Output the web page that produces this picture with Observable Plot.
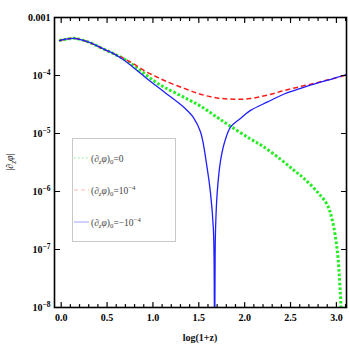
<!DOCTYPE html>
<html><head><meta charset="utf-8">
<script src="https://cdn.jsdelivr.net/npm/d3@7"></script>
<script src="https://cdn.jsdelivr.net/npm/@observablehq/plot@0.6"></script>
<style>body{margin:0;background:#fff}</style>
</head><body><div id="chart"></div>
<script>
// ---- tick values ----
const xMajor = [0, 0.5, 1.0, 1.5, 2.0, 2.5, 3.0];
const xMinor = [0.1,0.2,0.3,0.4,0.6,0.7,0.8,0.9,1.1,1.2,1.3,1.4,1.6,1.7,1.8,1.9,2.1,2.2,2.3,2.4,2.6,2.7,2.8,2.9,3.1];
const yTicks = [1e-8, 1e-7, 1e-6, 1e-5, 1e-4, 1e-3];
const yTickLabels = ["10^-8", "10^-7", "10^-6", "10^-5", "10^-4", "0.001"];

// ---- series ----
const greenX = [-0.02, 0.05, 0.145, 0.30, 0.47, 0.58, 0.69, 0.80, 0.91, 1.02, 1.13, 1.34, 1.53, 1.70, 1.86, 2.06, 2.20, 2.40, 2.54, 2.65, 2.80, 2.90, 2.955, 3.01, 3.035, 3.05, 3.056];
const greenY = [3.98e-4, 4.22e-4, 4.37e-4, 3.75e-4, 2.82e-4, 2.34e-4, 1.91e-4, 1.45e-4, 1.07e-4, 7.9e-5, 6.2e-5, 4.2e-5, 2.9e-5, 1.9e-5, 1.29e-5, 8.1e-6, 6.0e-6, 3.5e-6, 2.3e-6, 1.66e-6, 9.5e-7, 5.9e-7, 3.2e-7, 9.5e-8, 2.8e-8, 1.0e-8, 1.0e-9];

const redX = [-0.02, 0.05, 0.145, 0.30, 0.47, 0.58, 0.69, 0.80, 0.91, 1.02, 1.13, 1.34, 1.53, 1.70, 1.88, 2.06, 2.25, 2.43, 2.62, 2.80, 2.97, 3.11];
const redY = [3.98e-4, 4.22e-4, 4.37e-4, 3.75e-4, 2.82e-4, 2.34e-4, 1.95e-4, 1.55e-4, 1.20e-4, 9.8e-5, 8.1e-5, 6.0e-5, 4.7e-5, 4.1e-5, 3.9e-5, 4.0e-5, 4.6e-5, 5.5e-5, 6.5e-5, 7.6e-5, 8.9e-5, 1.02e-4];

const blueX = [-0.02, 0.05, 0.145, 0.30, 0.47, 0.58, 0.69, 0.80, 0.91, 1.02, 1.13, 1.34, 1.44, 1.52, 1.59, 1.628, 1.658, 1.666, 1.672, 1.678, 1.683, 1.70, 1.737, 1.78, 1.846, 1.95, 2.064, 2.25, 2.43, 2.61, 2.79, 2.95, 3.11];
const blueY = [3.98e-4, 4.22e-4, 4.37e-4, 3.75e-4, 2.82e-4, 2.34e-4, 1.82e-4, 1.32e-4, 9.5e-5, 6.9e-5, 5.1e-5, 2.8e-5, 1.9e-5, 1.05e-5, 2.6e-6, 9.3e-7, 2.4e-7, 8e-8, 1e-9, 8e-8, 2.4e-7, 9.3e-7, 3.4e-6, 7.0e-6, 1.29e-5, 1.8e-5, 2.5e-5, 3.5e-5, 4.8e-5, 6.0e-5, 7.4e-5, 8.7e-5, 1.04e-4];

const toRows = (xs, ys) => xs.map((x, i) => ({x, y: ys[i]}));

const tickShape = {draw(c, l) { c.moveTo(0, 0); c.lineTo(0, -l); }};
const tk = (data, opts) => Plot.vector(data, {shape: tickShape, anchor: "start", stroke: "black", strokeWidth: 1.2, ...opts});

const chart = Plot.plot({
  width: 349, height: 349,
  marginLeft: 54, marginRight: 3, marginTop: 17, marginBottom: 42,
  style: {fontFamily: "Liberation Serif, serif", background: "#fff"},
  x: {domain: [-0.073, 3.11]},
  y: {type: "log", domain: [1e-8, 1e-3]},
  marks: [
    Plot.line(toRows(greenX, greenY), {x: "x", y: "y", stroke: "#22ee22", strokeWidth: 3, strokeDasharray: "2.6,2", strokeLinecap: "butt", curve: "catmull-rom", clip: true}),
    Plot.line(toRows(redX, redY), {x: "x", y: "y", stroke: "#ff1a1a", strokeWidth: 1.5, strokeDasharray: "5,3", strokeLinecap: "butt", curve: "catmull-rom", clip: true}),
    Plot.line(toRows(blueX, blueY), {x: "x", y: "y", stroke: "#1f1fff", strokeWidth: 1.3, curve: "catmull-rom", clip: true}),
    Plot.frame({stroke: "black", strokeWidth: 1.6}),
    tk(xMajor, {x: d => d, frameAnchor: "bottom", rotate: 0, length: 5}),
    tk(xMinor, {x: d => d, frameAnchor: "bottom", rotate: 0, length: 3}),
    tk(xMajor, {x: d => d, frameAnchor: "top", rotate: 180, length: 5}),
    tk(xMinor, {x: d => d, frameAnchor: "top", rotate: 180, length: 3}),
    tk(yTicks, {y: d => d, frameAnchor: "left", rotate: 90, length: 5}),
    tk(yTicks, {y: d => d, frameAnchor: "right", rotate: -90, length: 5}),
    Plot.axisX({ticks: xMajor, tickSize: 0, tickPadding: 6, tickFormat: d3.format(".1f"), fontSize: 10, fontWeight: "bold", label: null}),
    Plot.axisY({ticks: yTicks, tickSize: 0, tickPadding: 4, tickFormat: d => yTickLabels[yTicks.indexOf(d)], fontSize: 10, fontWeight: "bold", label: null})
  ]
});
document.getElementById("chart").appendChild(chart);

const svg = d3.select(chart.tagName === "svg" ? chart : chart.querySelector("svg"));

// superscripts on y tick labels
svg.selectAll('[aria-label="y-axis tick label"] text').each(function() {
  const s = this.textContent;
  if (s.startsWith("10^")) {
    const exp = s.slice(3).replace("-", "\u2212");
    const t = d3.select(this);
    t.text("10");
    t.append("tspan").attr("dy", -4).attr("font-size", 7.5).text(exp);
  }
});

// rich text helper
function rich(sel, parts, size) {
  let shift = 0;
  for (const p of parts) {
    const target = p.sub ? 2.5 : p.sup ? -4 : 0;
    const ts = sel.append("tspan").attr("dy", target - shift).text(p.t);
    shift = target;
    if (p.sub || p.sup) ts.attr("font-size", size * 0.72);
    if (p.it) ts.attr("font-style", "italic");
  }
}

// axis titles
const yt = svg.append("text").attr("transform", "translate(13,162) rotate(-90)")
  .attr("text-anchor", "middle").attr("font-size", 10).attr("fill", "#111");
rich(yt, [{t: "|\u2202"}, {t: "z", sub: 1, it: 1}, {t: "\u03c6", it: 1}, {t: "|"}], 10);

svg.append("text").attr("x", 200).attr("y", 341).attr("text-anchor", "middle")
  .attr("font-size", 10).attr("font-weight", "bold").attr("fill", "#111").text("log(1+z)");

// legend
const lg = svg.append("g").attr("font-family", "Liberation Serif, serif").attr("text-anchor", "start");
lg.append("rect").attr("x", 72.5).attr("y", 138.5).attr("width", 103).attr("height", 103)
  .attr("fill", "#fff").attr("stroke", "#c8c8c8").attr("stroke-width", 1);
const legendItems = [
  {y: 158, stroke: "#b4f4b4", w: 1.4, dash: "1.5,2.5", parts: [{t: "(\u2202"}, {t: "z", sub: 1, it: 1}, {t: "\u03c6", it: 1}, {t: ")"}, {t: "0", sub: 1}, {t: "=0"}]},
  {y: 190, stroke: "#ffb4b4", w: 1.2, dash: "4,3", parts: [{t: "(\u2202"}, {t: "z", sub: 1, it: 1}, {t: "\u03c6", it: 1}, {t: ")"}, {t: "0", sub: 1}, {t: "=10"}, {t: "\u22124", sup: 1}]},
  {y: 222, stroke: "#aaaaff", w: 1.1, dash: null, parts: [{t: "(\u2202"}, {t: "z", sub: 1, it: 1}, {t: "\u03c6", it: 1}, {t: ")"}, {t: "0", sub: 1}, {t: "=\u221210"}, {t: "\u22124", sup: 1}]}
];
for (const it of legendItems) {
  const ln = lg.append("line").attr("x1", 74).attr("x2", 89).attr("y1", it.y).attr("y2", it.y)
    .attr("stroke", it.stroke).attr("stroke-width", it.w).attr("fill", "none");
  if (it.dash) ln.attr("stroke-dasharray", it.dash);
  const t = lg.append("text").attr("x", 91).attr("y", it.y + 3.5).attr("font-size", 9.5).attr("fill", "#444");
  rich(t, it.parts, 9.5);
}
</script>
</body></html>
